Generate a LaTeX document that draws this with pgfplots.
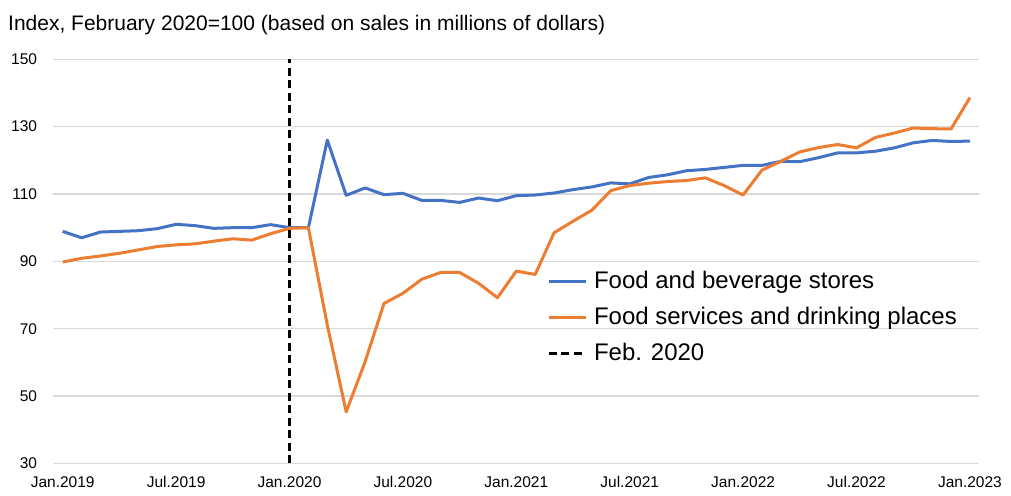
\documentclass[border=0pt]{standalone}
\usepackage{fontspec}
\setmainfont{Liberation Sans}
\usepackage{pgfplots}
\pgfplotsset{compat=1.18}
\usepackage{pgfplotstable}

\definecolor{fbstores}{HTML}{4472C4}
\definecolor{fservices}{HTML}{ED7D31}
\definecolor{gridgray}{HTML}{D9D9D9}

% month index: 0 = Jan. 2019 ... 48 = Jan. 2023
\pgfplotstableread{
m  stores services
0  98.9   89.8
1  97.0   90.9
2  98.7   91.6
3  98.9   92.4
4  99.1   93.4
5  99.7   94.4
6  101.0  94.9
7  100.6  95.2
8  99.8   96.0
9  100.0  96.7
10 100.0  96.3
11 100.9  98.2
12 100.0  99.8
13 100.0  100.0
14 126.0  71.1
15 109.6  45.3
16 111.8  60.2
17 109.8  77.5
18 110.2  80.5
19 108.1  84.7
20 108.1  86.7
21 107.5  86.7
22 108.8  83.5
23 108.0  79.2
24 109.5  87.1
25 109.7  86.1
26 110.3  98.5
27 111.3  101.9
28 112.1  105.2
29 113.3  111.0
30 113.0  112.5
31 114.9  113.2
32 115.7  113.7
33 116.9  114.0
34 117.3  114.8
35 117.9  112.5
36 118.5  109.7
37 118.5  117.1
38 119.7  119.7
39 119.6  122.5
40 120.8  123.8
41 122.2  124.7
42 122.2  123.7
43 122.7  126.8
44 123.7  128.1
45 125.2  129.6
46 125.9  129.4
47 125.6  129.3
48 125.7  138.6
}\salesdata

\begin{document}
\begin{tikzpicture}
\path[use as bounding box] (0,0) rectangle (1011pt,495pt);
\node[anchor=base west, inner sep=0pt, font=\fontsize{21}{25}\selectfont]
  at (8pt,464.5pt) {Index, February 2020=100 (based on sales in millions of dollars)};
\begin{axis}[
    at={(53.25pt,31.6pt)}, anchor=south west,
    scale only axis,
    width=926.1pt, height=404.1pt,
    xmin=-0.5, xmax=48.5,
    ymin=30, ymax=150,
    clip=false,
    axis line style={draw=none},
    major tick length=0pt,
    ymajorgrids,
    grid style={gridgray, line width=1.3pt},
    xtick={0,6,...,48},
    xticklabels={Jan.2019,Jul.2019,Jan.2020,Jul.2020,Jan.2021,Jul.2021,Jan.2022,Jul.2022,Jan.2023},
    ytick={30,50,...,150},
    /pgf/number format/assume math mode=true,
    xticklabel style={font=\fontsize{15.5}{18}\selectfont, inner sep=0pt, anchor=north, yshift=-13pt},
    yticklabel style={font=\fontsize{15.5}{18}\selectfont, inner sep=0pt, anchor=east, xshift=-16pt},
    legend cell align=left,
    legend image code/.code={\draw[#1] (0pt,0pt) -- (37pt,0pt); \path (44pt,0pt);},
    legend style={draw=none, fill=none, inner sep=0pt, outer sep=0pt,
      at={(0.5332,0.4781)}, anchor=north west,
      font=\fontsize{24}{28}\selectfont, row sep=13pt,
      nodes={inner sep=0pt, text height=18pt, text depth=5pt}},
  ]
  \addplot[fbstores, line width=3pt, line join=round] table[x=m, y=stores] {\salesdata};
  \addlegendentry{Food and beverage stores}
  \addplot[fservices, line width=3pt, line join=round] table[x=m, y=services] {\salesdata};
  \addlegendentry{Food services and drinking places}
  \addplot[black, line width=3pt, dash pattern=on 8pt off 4.5pt] coordinates {(12,30) (12,150)};
  \addlegendentry{Feb. 2020}
\end{axis}
\end{tikzpicture}
\end{document}
